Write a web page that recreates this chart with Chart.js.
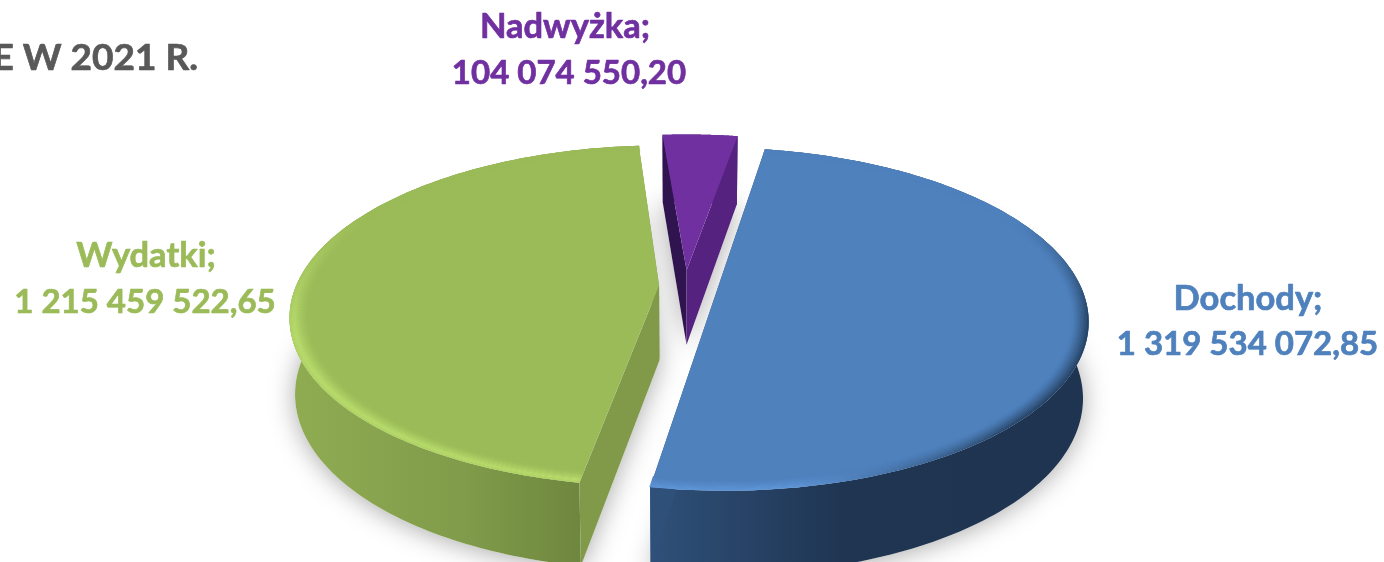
<!DOCTYPE html>
<html lang="pl">
<head>
<meta charset="utf-8">
<title>Wykres</title>
<style>html,body{margin:0;padding:0;background:#fff;overflow:hidden}canvas{display:block}</style>
<script src="https://cdn.jsdelivr.net/npm/chart.js@4/dist/chart.umd.js"></script>
</head>
<body>
<canvas id="c" width="1384" height="562"></canvas>
<script>
// ---- data ----
const categories = ['Dochody', 'Wydatki', 'Nadwyżka'];
const values = [1319534072.85, 1215459522.65, 104074550.20];
const valueLabels = ['1 319 534 072,85', '1 215 459 522,65', '104 074 550,20'];
const titleText = 'E W 2021 R.';

// ---- style ----
const topColors = ['#4f81bd', '#9bbb59', '#7030a0'];
const labelColors = ['#4f81bd', '#9bbb59', '#7030a0'];
const explode = [33, 26, 35];
const wallStops = [
  [[0, '#2f5079'], [0.45, '#1f3552'], [1, '#1e3450']],
  [[0, '#8fac52'], [0.5, '#809b4a'], [1, '#657c38']],
  [[0, '#55237f'], [1, '#55237f']]
];
const cutColors = [['#2f5079', '#2f5079'], ['#809a4a', '#809a4a'], ['#2f1450', '#55237f']];
const labelPos = [[1248, 1247.5, 299, 344], [146, 145, 256, 302], [565, 569, 27, 73]];
const view = {cx: 685, cy: 286, k: 0.178, squash: 0.455, depth: 75, shrink: 0.986};

function hex(c){return [1,3,5].map(i=>parseInt(c.substr(i,2),16));}
function mix(a,b,t){const A=hex(a),B=hex(b);return 'rgb('+A.map((v,i)=>Math.round(v+(B[i]-v)*t)).join(',')+')';}
function toHex(rgb){return '#'+rgb.match(/\d+/g).map(n=>(+n).toString(16).padStart(2,'0')).join('');}
function clamp(x){return Math.max(0,Math.min(1,x));}

function project(X,Y,R,bottom){
  const w = 1 - view.k*Y/R;
  let sx = X/w, sy = view.squash*Y/w;
  if(bottom){ sx *= view.shrink; sy += view.depth*Math.pow(w,-0.55); }
  return [view.cx+sx, view.cy+sy];
}

function trace(ctx,pts){ctx.beginPath();pts.forEach((p,i)=>i?ctx.lineTo(p[0],p[1]):ctx.moveTo(p[0],p[1]));ctx.closePath();}

function sliceGeom(el){
  const p = el.getProps(['startAngle','endAngle','outerRadius'],true);
  const R = p.outerRadius, mid=(p.startAngle+p.endAngle)/2, off=el.options.offset||0;
  const ox=Math.cos(mid)*off, oy=Math.sin(mid)*off;
  const pt=(a,r,b)=>project(ox+Math.cos(a)*r*R, oy+Math.sin(a)*r*R, R, b);
  const n=160, angs=[];
  for(let i=0;i<=n;i++)angs.push(p.startAngle+(p.endAngle-p.startAngle)*i/n);
  return {R,pt,angs,start:p.startAngle,end:p.endAngle};
}

function rimColor(idx,a,x,band){
  const v=Math.sin(a);
  if(idx===1){ // green: bright rounded edge on the near side
    const f=clamp((v+0.45)/0.75);
    return mix(topColors[1],'#b8dc6c',band*f);
  }
  if(idx===0){ // blue: light on the near left, dark on the right
    const lit=clamp((x-800)/220);
    const hi=toHex(mix('#6198da','#24405f',lit));
    const f=clamp((v+0.45)/0.6);
    return mix(topColors[0],hi,band*f);
  }
  return topColors[idx];
}

const pie3d = {
  id:'pie3d',
  beforeDraw(chart){const c=chart.ctx;c.save();c.fillStyle='#fff';c.fillRect(0,0,chart.width,chart.height);c.restore();},
  beforeDatasetsDraw(chart){
    const ctx=chart.ctx, arcs=chart.getDatasetMeta(0).data;
    ctx.save();
    const geoms=arcs.map(sliceGeom);
    // soft shadow cast by each slice's base
    [2,1,0].forEach(i=>{
      const g=geoms[i];
      const base=[g.pt(0,0,true)].concat(g.angs.map(a=>g.pt(a,1,true)));
      ctx.save();
      ctx.shadowColor='rgba(0,0,0,0.34)';ctx.shadowBlur=26;ctx.shadowOffsetY=2;
      trace(ctx,base);ctx.fillStyle='#fff';ctx.fill();
      ctx.restore();
    });
    [2,1,0].forEach(i=>{
      const g=geoms[i];
      const topArc=g.angs.map(a=>g.pt(a,1,false));
      const botArc=g.angs.map(a=>g.pt(a,1,true));
      // outer wall
      const xs=botArc.map(p=>p[0]);
      const grad=ctx.createLinearGradient(Math.min(...xs),0,Math.max(...xs),0);
      wallStops[i].forEach(s=>grad.addColorStop(s[0],s[1]));
      trace(ctx,topArc.concat(botArc.slice().reverse()));
      ctx.fillStyle=grad;ctx.fill();
      // cut faces
      const apexT=g.pt(0,0,false), apexB=g.pt(0,0,true);
      [[g.start,0],[g.end,1]].forEach(([a,j])=>{
        trace(ctx,[apexT,g.pt(a,1,false),g.pt(a,1,true),apexB]);
        ctx.fillStyle=cutColors[i][j];ctx.fill();
      });
      // top face
      trace(ctx,[apexT].concat(topArc));
      ctx.fillStyle=topColors[i];ctx.fill();
      // rounded rim
      if(i<2){
        const N=12, width=i===1?0.05:0.045;
        for(let b=0;b<N;b++){
          const r0=1-width*b/N, r1=1-width*(b+1)/N;
          const tt=(b+0.5)/N;
          const band=i===1?(tt<0.25?0.7+tt*1.2:Math.pow(1-(tt-0.25)/0.75,1.4)):Math.pow(1-tt,1.3);
          for(let s=0;s<g.angs.length-1;s++){
            const a0=g.angs[s],a1=g.angs[s+1];
            const p0=g.pt(a0,r0,false),p1=g.pt(a1+0.002,r0,false),p2=g.pt(a1+0.002,r1-0.001,false),p3=g.pt(a0,r1-0.001,false);
            trace(ctx,[p0,p1,p2,p3]);
            ctx.fillStyle=rimColor(i,a0,p0[0],band);ctx.fill();
          }
        }
      }
    });
    ctx.restore();
    return false;
  },
  afterDraw(chart){
    const ctx=chart.ctx;
    ctx.save();
    ctx.textBaseline='alphabetic';
    ctx.lineJoin='round';
    ctx.lineWidth=0.7;
    ctx.textAlign='center';
    const put=(t,x,y)=>{ctx.fillText(t,x,y);ctx.strokeText(t,x,y);};
    categories.forEach((c,i)=>{
      ctx.fillStyle=ctx.strokeStyle=labelColors[i];
      const [x1,x2,y1,y2]=labelPos[i];
      ctx.font='bold 34.5px Lato';
      put(c+';',x1,y1+11);
      ctx.font='bold 33px Lato';
      put(valueLabels[i],x2,y2+11);
    });
    ctx.textAlign='right';
    ctx.fillStyle=ctx.strokeStyle='#595959';
    ctx.font='bold 37px Lato';
    put(titleText,198,70);
    ctx.restore();
  }
};

new Chart(document.getElementById('c'),{
  type:'pie',
  data:{labels:categories,datasets:[{data:values,backgroundColor:topColors,offset:explode,borderWidth:0}]},
  options:{
    responsive:false,animation:false,rotation:9.7,radius:363,
    plugins:{legend:{display:false},tooltip:{enabled:false},title:{display:false}}
  },
  plugins:[pie3d]
});
</script>
</body>
</html>
